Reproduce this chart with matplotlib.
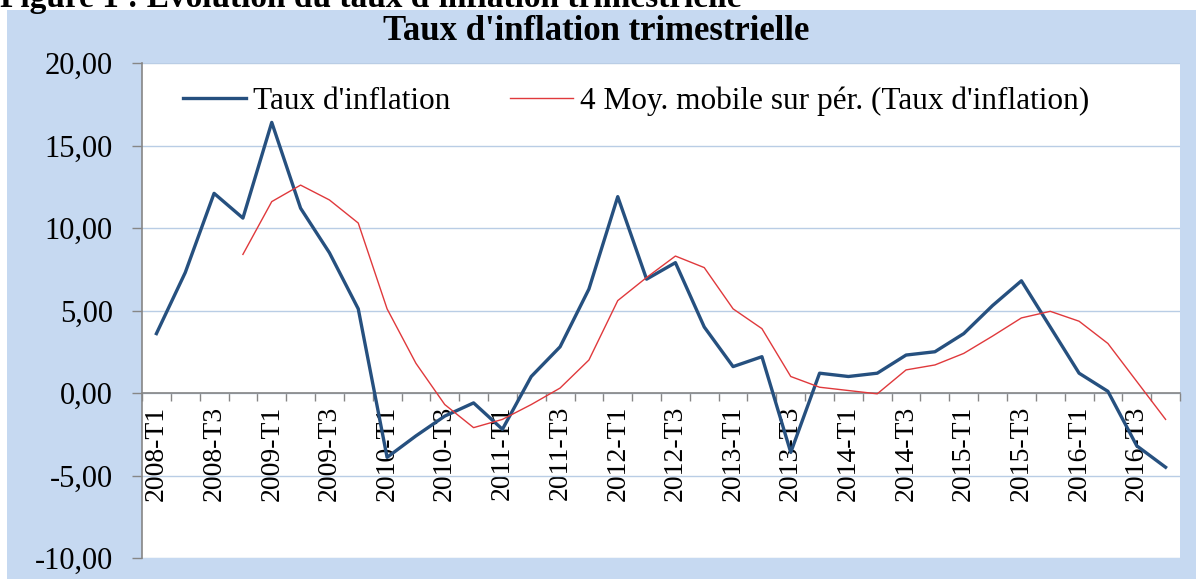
import numpy as np
import matplotlib
matplotlib.use("Agg")
import matplotlib.pyplot as plt
from matplotlib.patches import Rectangle
from matplotlib.ticker import FixedLocator, FuncFormatter

plt.rcParams['font.family'] = ['Liberation Serif', 'DejaVu Serif']

years = [2008, 2009, 2010, 2011, 2012, 2013, 2014, 2015, 2016]
quarters = ["T1", "T2", "T3", "T4"]
categories = [f"{y}-{q}" for y in years for q in quarters]

inflation = [3.6, 7.3, 12.1, 10.6, 16.4, 11.2, 8.5, 5.1,
             -3.9, -2.6, -1.4, -0.6, -2.2, 1.0, 2.8, 6.3,
             11.9, 6.9, 7.9, 4.0, 1.6, 2.2, -3.6, 1.2,
             1.0, 1.2, 2.3, 2.5, 3.6, 5.3, 6.8, 4.0,
             1.2, 0.1, -3.2, -4.5]
moving_avg = [np.nan, np.nan, np.nan, 8.4,
              11.6, 12.6, 11.7, 10.3, 5.1, 1.8, -0.7, -2.1,
              -1.6, -0.7, 0.3, 2.0, 5.6, 7.0, 8.3, 7.6,
              5.1, 3.9, 1.0, 0.35, 0.15, -0.05, 1.4, 1.7,
              2.4, 3.45, 4.55, 4.95, 4.35, 3.0, 0.7, -1.6]
y_ticks = [-10, -5, 0, 5, 10, 15, 20]

W, H = 1196, 579
fig = plt.figure(figsize=(W / 100, H / 100), dpi=100, facecolor="white")

# chart area background (separate axes behind everything)
bg = fig.add_axes([0, 0, 1, 1], zorder=-10)
bg.set_xlim(0, W)
bg.set_ylim(H, 0)
bg.axis("off")
bg.add_patch(Rectangle((7, 10), W - 7, H - 10, facecolor="#C6D9F1", edgecolor="none"))

# caption partially cut at top
fig.text(0.0, 1 - 7 / H, "Figure 1 : Évolution du taux d'inflation trimestrielle",
         fontsize=24, fontweight="bold", ha="left", va="baseline", color="black")

fig.text(596 / W, 1 - 40 / H, "Taux d'inflation trimestrielle",
         fontsize=25, fontweight="bold", ha="center", va="baseline")

left, right, top, bottom = 142, 1180, 63, 558
ax = fig.add_axes([left / W, (H - bottom) / H, (right - left) / W, (bottom - top) / H])
ax.set_facecolor("white")

x = np.arange(len(categories))
ax.plot(x, inflation, color="#26507F", lw=2.4, label="Taux d'inflation", zorder=3)
ax.plot(x, moving_avg, color="#E0393C", lw=1.0,
        label="4 Moy. mobile sur pér. (Taux d'inflation)", zorder=3)

ax.set_xlim(-0.5, len(categories) - 0.5)
ax.set_ylim(-10, 20)

ax.set_yticks(y_ticks)
ax.yaxis.set_major_formatter(FuncFormatter(lambda v, p: f"{v:.2f}".replace(".", ",")))
ax.grid(axis="y", color="#B9CDE5", lw=1.0, zorder=1)
ax.set_axisbelow(True)

for s in ["top", "right"]:
    ax.spines[s].set_visible(False)
ax.spines["left"].set_color("#868686")
ax.spines["left"].set_linewidth(1.2)
ax.spines["bottom"].set_position(("data", 0))
ax.spines["bottom"].set_color("#868686")
ax.spines["bottom"].set_linewidth(1.2)
ax.spines["bottom"].set_zorder(2)

ax.tick_params(axis="y", direction="out", length=7, width=1.0, color="#868686",
               labelsize=22, pad=14)

major = list(range(0, len(categories), 2))
ax.xaxis.set_major_locator(FixedLocator(major))
ax.set_xticklabels([categories[i] for i in major], rotation=90, va="top", ha="center")
ax.xaxis.set_minor_locator(FixedLocator(np.arange(-0.5, len(categories), 1.0)))
ax.tick_params(axis="x", which="major", length=0, labelsize=20, pad=9)
ax.tick_params(axis="x", which="minor", direction="out", length=5.5, width=1.0,
               color="#868686")

leg = fig.legend(loc="center left", bbox_to_anchor=(183 / W, 1 - 101 / H),
                 ncol=2, frameon=False, fontsize=22.5, handlelength=2.0,
                 handletextpad=0.25, columnspacing=1.9, borderpad=0,
                 borderaxespad=0)

fig.savefig("out.png", dpi=100, facecolor="white")
